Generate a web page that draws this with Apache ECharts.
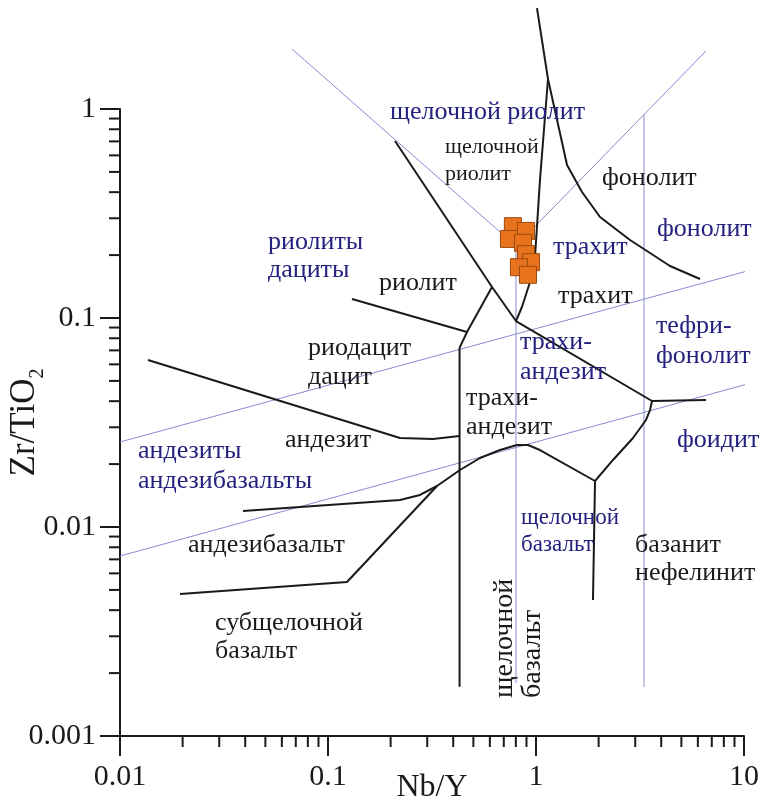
<!DOCTYPE html>
<html><head><meta charset="utf-8">
<script src="https://cdn.jsdelivr.net/npm/echarts@6/dist/echarts.min.js"></script>
<style>html,body{margin:0;padding:0;background:#fff}#c{width:762px;height:805px}</style>
</head><body><div id="c"></div>
<script>
// ---- sample points (Nb/Y, Zr/TiO2) ----
const sampleNbY  = [0.774, 0.895, 0.741, 0.866, 0.895, 0.946, 0.828, 0.915];
const sampleZrTi = [0.275, 0.261, 0.239, 0.229, 0.202, 0.185, 0.175, 0.161];

// ---- black field boundaries (Nb/Y, Zr/TiO2) ----
const bStem        = [[1.011,3.04],[1.142,1.392]];
const bAlkRhyolite = [[1.142,1.392],[1.045,0.4573],[0.989,0.1958],[0.936,0.1487],[0.856,0.1129],[0.801,0.0967]];
const bPhonolite   = [[1.142,1.392],[1.410,0.5395],[1.664,0.4008],[2.031,0.3043],[2.831,0.2361],[4.409,0.1773],[6.145,0.1537]];
const bRhyolite    = [[0.2100,0.7029],[0.6145,0.1407],[0.801,0.0967],[3.612,0.04008],[6.565,0.04053]];
const bRhyodacite  = [[0.6145,0.1407],[0.466,0.0857],[0.429,0.0719],[0.429,0.00172]];
const bRhyoliteLow = [[0.1304,0.1233],[0.466,0.0857]];
const bAndesite    = [[0.01363,0.0630],[0.2220,0.02666],[0.3197,0.02637],[0.429,0.02726]];
const bAndBasalt   = [[0.03903,0.01193],[0.2220,0.01346],[0.2769,0.01423],[0.3342,0.01571]];
const bSubBasalt   = [[0.01943,0.00478],[0.1234,0.005455],[0.3342,0.01571]];
const bAlkBasalt   = [[0.3342,0.01571],[0.431,0.01874],[0.5379,0.02139],[0.6714,0.02335],[0.8103,0.02468],[0.9152,0.02468],[1.045,0.02335],[1.922,0.0166]];
const bBasanite    = [[1.922,0.0166],[1.879,0.004474]];
const bFoidite     = [[1.922,0.0166],[2.345,0.02093],[2.926,0.02666],[3.380,0.03251],[3.533,0.03628],[3.612,0.04008]];

// ---- blue field boundaries ----
const vAlkRhyolite = [[0.06713,1.937],[0.801,0.2211],[6.565,1.895]];
const vTrachyte    = [[0.801,0.2211],[0.801,0.001793]];
const vPhonolite   = [[3.305,0.9361],[3.305,0.001716]];
const vUpper       = [[0.01,0.02551],[12.21,0.1754]];
const vLower       = [[0.01,0.007265],[12.21,0.0505]];

// ---- field labels [text, Nb/Y, Zr/TiO2] ----
const blueLabels = [
  ['щелочной риолит', 0.1987, 0.967],
  ['риолиты', 0.05146, 0.2310],
  ['дациты', 0.05146, 0.1697],
  ['трахит', 1.207, 0.2186],
  ['фонолит', 3.817, 0.2666],
  ['трахи-', 0.8377, 0.07676],
  ['андезит', 0.8377, 0.05515],
  ['тефри-', 3.775, 0.09156],
  ['фонолит', 3.775, 0.06579],
  ['фоидит', 4.763, 0.02608],
  ['андезиты', 0.01220, 0.02310],
  ['андезибазальты', 0.01220, 0.01660]
];
const blueSmallLabels = [
  ['щелочной', 0.8470, 0.01104],
  ['базальт', 0.8470, 0.008202]
];
const blackSmallLabels = [
  ['щелочной', 0.3652, 0.6579],
  ['риолит', 0.3652, 0.4887]
];
const blackLabels = [
  ['фонолит', 2.076, 0.4677],
  ['риолит', 0.1759, 0.1471],
  ['трахит', 1.276, 0.1274],
  ['риодацит', 0.08012, 0.0719],
  ['дацит', 0.08012, 0.0522],
  ['трахи-', 0.4609, 0.04142],
  ['андезит', 0.4609, 0.0301],
  ['андезит', 0.06214, 0.02608],
  ['андезибазальт', 0.02123, 0.008202],
  ['субщелочной', 0.02862, 0.003473],
  ['базальт', 0.02862, 0.002551],
  ['базанит', 2.992, 0.008202],
  ['нефелинит', 2.992, 0.006024]
];
const verticalLabels = [
  ['щелочной', 0.7096, 0.00152],
  ['базальт', 0.9674, 0.00152]
];

// minor tick multipliers per decade
const minorMult = [2,3,4,5,6,7,8,9];
const xDecades = [0.01, 0.1, 1];
const yDecades = [0.001, 0.01, 0.1];

const SERIF = '"Liberation Serif", "Times New Roman", serif';
const BLACK = '#1a1a1a';
const BLUE_LINE = '#8a8ad0';
const BLUE_TEXT = '#25217f';

const xMinor = [], yMinor = [];
xDecades.forEach(d => minorMult.forEach(m => xMinor.push([+(d*m).toPrecision(3), 0.001])));
yDecades.forEach(d => minorMult.forEach(m => yMinor.push([0.01, +(d*m).toPrecision(3)])));

function lineSeries(data, color, width) {
  return {type:'line', data, symbol:'none', clip:false, silent:true, z:3,
    lineStyle:{color, width}, emphasis:{disabled:true}};
}
function labelSeries(arr, color, size, rot) {
  return {type:'custom', clip:false, silent:true, z:6,
    data: arr.map(a => [a[1], a[2]]),
    encode:{x:0, y:1},
    renderItem(params, api) {
      const a = arr[params.dataIndex];
      const p = api.coord([a[1], a[2]]);
      return {type:'text', x:p[0], y:p[1], rotation: rot ? Math.PI/2 : 0,
        style:{text:a[0], fill:color, font: size + 'px ' + SERIF, align:'left', verticalAlign:'middle'}};
    }};
}
function tickSeries(arr, horiz) {
  return {type:'custom', clip:false, silent:true, z:2,
    data: arr, encode:{x:0, y:1},
    renderItem(params, api) {
      const p = api.coord([api.value(0), api.value(1)]);
      const shape = horiz ? {x1:p[0], y1:p[1], x2:p[0], y2:p[1]+11} : {x1:p[0], y1:p[1], x2:p[0]-11, y2:p[1]};
      return {type:'line', shape, style:{stroke:BLACK, lineWidth:2}};
    }};
}
const fmt = v => String(+(+v).toPrecision(3));

const chart = echarts.init(document.getElementById('c'), null, {renderer:'canvas'});
chart.setOption({
  animation:false,
  backgroundColor:'#fff',
  grid:{left:120, right:18, top:109, bottom:69, containLabel:false, outerBoundsMode:'none'},
  xAxis:{type:'log', logBase:10, min:0.01, max:10,
    axisLine:{lineStyle:{color:BLACK, width:2}},
    axisTick:{length:20, lineStyle:{color:BLACK, width:2}},
    axisLabel:{fontFamily:SERIF, fontSize:30, color:BLACK, margin:26, formatter:fmt},
    splitLine:{show:false}, minorTick:{show:false},
    name:'Nb/Y', nameLocation:'middle', nameGap:36, nameMoveOverlap:false,
    nameTextStyle:{fontFamily:SERIF, fontSize:32, color:BLACK}},
  yAxis:{type:'log', logBase:10, min:0.001, max:1,
    axisLine:{lineStyle:{color:BLACK, width:2}},
    axisTick:{length:20, lineStyle:{color:BLACK, width:2}},
    axisLabel:{fontFamily:SERIF, fontSize:30, color:BLACK, margin:24, formatter:fmt},
    splitLine:{show:false}, minorTick:{show:false},
    name:'Zr/TiO{s|2}', nameLocation:'middle', nameGap:72, nameRotate:90, nameMoveOverlap:false,
    nameTextStyle:{fontFamily:SERIF, fontSize:35, color:BLACK, lineHeight:46,
      rich:{s:{fontFamily:SERIF, fontSize:20, color:BLACK, verticalAlign:'bottom', lineHeight:20}}}},
  series:[
    tickSeries(xMinor, true),
    tickSeries(yMinor, false),
    lineSeries(vAlkRhyolite, BLUE_LINE, 1),
    lineSeries(vTrachyte, BLUE_LINE, 1),
    lineSeries(vPhonolite, BLUE_LINE, 1),
    lineSeries(vUpper, BLUE_LINE, 1),
    lineSeries(vLower, BLUE_LINE, 1),
    lineSeries(bStem, BLACK, 2),
    lineSeries(bAlkRhyolite, BLACK, 2),
    lineSeries(bPhonolite, BLACK, 2),
    lineSeries(bRhyolite, BLACK, 2),
    lineSeries(bRhyodacite, BLACK, 2),
    lineSeries(bRhyoliteLow, BLACK, 2),
    lineSeries(bAndesite, BLACK, 2),
    lineSeries(bAndBasalt, BLACK, 2),
    lineSeries(bSubBasalt, BLACK, 2),
    lineSeries(bAlkBasalt, BLACK, 2),
    lineSeries(bBasanite, BLACK, 2),
    lineSeries(bFoidite, BLACK, 2),
    labelSeries(blueLabels, BLUE_TEXT, 26, false),
    labelSeries(blueSmallLabels, BLUE_TEXT, 23, false),
    labelSeries(blackSmallLabels, BLACK, 22, false),
    labelSeries(blackLabels, BLACK, 26, false),
    labelSeries(verticalLabels, BLACK, 28, true),
    {type:'scatter', z:10, symbol:'rect', symbolSize:17, clip:false,
      data: sampleNbY.map((x,i) => [x, sampleZrTi[i]]),
      itemStyle:{color:'#e8731c', borderColor:'#9a4a0c', borderWidth:1, opacity:1}}
  ]
});
</script></body></html>
